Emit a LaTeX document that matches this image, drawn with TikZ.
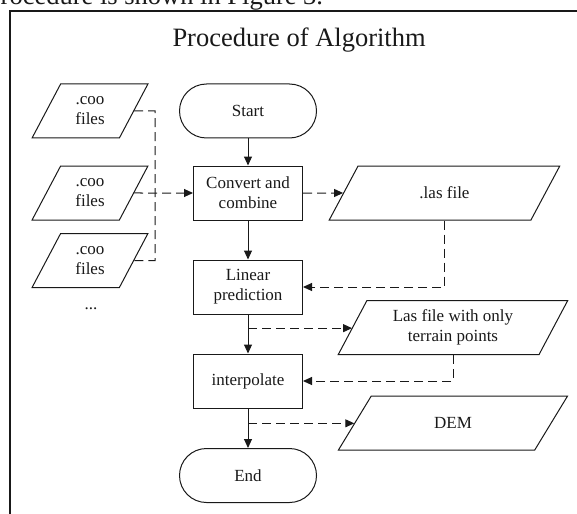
\documentclass[tikz,border=0pt]{standalone}
\usepackage{fontspec}
\setmainfont{Liberation Serif}
\usetikzlibrary{shapes.geometric,arrows.meta,calc}
\newcommand\flowfont{\fontsize{17}{20}\selectfont}
\newcommand\titlefont{\fontsize{26.5}{30}\selectfont}
\definecolor{ink}{RGB}{25,25,25}
\tikzstyle{every path}=[line width=1pt]
\tikzstyle{terminal}=[draw, rectangle, rounded corners=27pt, minimum width=137pt, minimum height=54pt, font=\flowfont]
\tikzstyle{process}=[draw, rectangle, minimum width=109pt, minimum height=54pt, align=center, font=\flowfont]
\tikzstyle{iofile}=[draw, trapezium, trapezium left angle=63.4, trapezium right angle=116.6, trapezium stretches=true, minimum height=54pt, align=center, font=\flowfont]
\tikzstyle{flow}=[-{Triangle[length=9pt,width=8pt]}]
\tikzstyle{dashline}=[dash pattern=on 9pt off 5pt]
\tikzstyle{dashflow}=[dashline, -{Triangle[length=9pt,width=8pt]}]
\tikzstyle{frame}=[line width=2pt]

\begin{document}
\begin{tikzpicture}[x=1pt, y=-1pt, color=ink]
    \useasboundingbox (0,0) rectangle (577,513);

    \node[anchor=base west, inner sep=0, font=\titlefont] (caption) at (-14.5,5) {Procedure is shown in Figure 3.};
    \draw[frame] (9.5,530) -- (9.5,11.5) -- (590,11.5);
    \node[anchor=base west, inner sep=0, font=\titlefont] (title) at (172,47) {Procedure of Algorithm};

    \node[terminal] (start) at (248,111) {Start};
    \node[process] (convert) at (248,193) {Convert and\\combine};
    \node[process] (linear) at (248,287) {Linear\\prediction};
    \node[process] (interp) at (248,381) {interpolate};
    \node[terminal] (end) at (248,475.5) {End};

    \node[iofile, minimum width=116pt] (coo1) at (90,111) {.coo\\files};
    \node[iofile, minimum width=116pt] (coo2) at (90,193) {.coo\\files};
    \node[iofile, minimum width=116pt] (coo3) at (90,260.5) {.coo\\files};
    \node[font=\flowfont] (dots) at (91,309) {...};

    \node[iofile, minimum width=231pt] (las) at (444.5,193) {.las file};
    \node[iofile, minimum width=230pt] (terrain) at (453,327.5) {Las file with only\\terrain points};
    \node[iofile, minimum width=230pt] (dem) at (453,423) {DEM};

    \draw[flow] (start) -- (convert);
    \draw[flow] (convert) -- (linear);
    \draw[flow] (linear) -- (interp);
    \draw[flow] (interp) -- (end);

    \coordinate (bustop) at (155,111);
    \coordinate (busbot) at (155,260.5);
    \draw[dashline] (coo1.east) -- (bustop) -- (busbot) -- (coo3.east);
    \draw[dashflow] (coo2.east) -- (convert.west);
    \draw[dashflow] (convert.east) -- (las.west);
    \draw[dashflow] (las.south) |- (linear.east);

    \coordinate (tap1) at ($(linear.south)!0.35!(interp.north)$);
    \draw[dashflow] (tap1) -- (tap1 -| terrain.west);
    \draw[dashflow] (terrain.south) |- (interp.east);
    \coordinate (tap2) at ($(interp.south)!0.375!(end.north)$);
    \draw[dashflow] (tap2) -- (tap2 -| dem.west);
\end{tikzpicture}
\end{document}
